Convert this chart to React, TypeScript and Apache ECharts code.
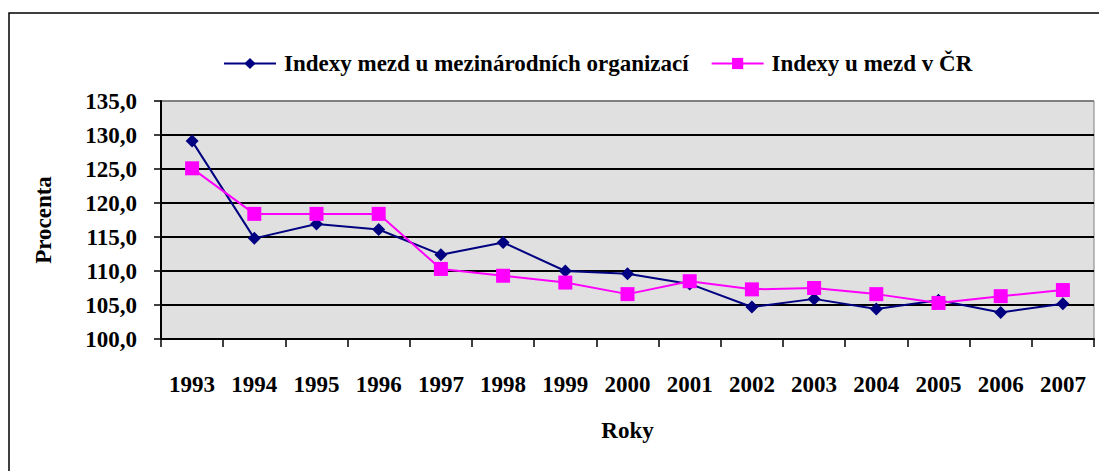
import React, { useEffect, useRef } from "react";
import * as echarts from "echarts";

const years = ["1993", "1994", "1995", "1996", "1997", "1998", "1999", "2000", "2001", "2002", "2003", "2004", "2005", "2006", "2007"];
const intlOrgIndex = [129.1, 114.8, 116.9, 116.1, 112.4, 114.2, 110.0, 109.6, 108.1, 104.7, 105.9, 104.4, 105.7, 103.9, 105.2];
const czIndex = [125.1, 118.4, 118.4, 118.4, 110.3, 109.3, 108.3, 106.6, 108.5, 107.3, 107.5, 106.6, 105.3, 106.3, 107.2];
const seriesNames = ["Indexy mezd u mezinárodních organizací", "Indexy u mezd v ČR"];
const yTickValues = [100, 105, 110, 115, 120, 125, 130, 135];

const FONT = "Liberation Serif";

export default function App() {
  const ref = useRef<HTMLDivElement>(null);
  useEffect(() => {
    if (!ref.current) return;
    const chart = echarts.init(ref.current, null, { renderer: "svg" });
    const splitColors = yTickValues.map((v, i) => (i === yTickValues.length - 1 ? "#808080" : "#000000"));
    chart.setOption({
      animation: false,
      backgroundColor: "#ffffff",
      textStyle: { fontFamily: FONT },
      graphic: [
        {
          type: "rect",
          shape: { x: 9, y: 13, width: 1200, height: 600 },
          style: { fill: "none", stroke: "#000", lineWidth: 1.5 },
          z: 0,
        },
      ],
      legend: {
        left: 218,
        top: 47,
        itemWidth: 52,
        itemHeight: 14,
        itemGap: 22,
        textStyle: { fontFamily: FONT, fontWeight: "bold", fontSize: 23, color: "#000", padding: [0, 0, 0, 3] },
        data: seriesNames,
      },
      grid: {
        left: 161,
        right: 5,
        top: 101,
        bottom: 132,
        show: true,
        backgroundColor: "#E0E0E0",
        borderColor: "#808080",
        borderWidth: 1,
      },
      xAxis: {
        type: "category",
        data: years,
        boundaryGap: true,
        name: "Roky",
        nameLocation: "middle",
        nameGap: 80,
        nameTextStyle: { fontFamily: FONT, fontWeight: "bold", fontSize: 23, color: "#000" },
        axisLine: { lineStyle: { color: "#000", width: 2 } },
        axisTick: { show: true, length: 8, alignWithLabel: false, lineStyle: { color: "#000", width: 1.5 } },
        axisLabel: { margin: 34, fontFamily: FONT, fontWeight: "bold", fontSize: 23, color: "#000", interval: 0 },
        splitLine: { show: false },
      },
      yAxis: {
        type: "value",
        min: 100,
        max: 135,
        interval: 5,
        name: "Procenta",
        nameLocation: "middle",
        nameGap: 106,
        nameRotate: 90,
        nameTextStyle: { fontFamily: FONT, fontWeight: "bold", fontSize: 23, color: "#000" },
        axisLine: { show: true, lineStyle: { color: "#000", width: 2 } },
        axisTick: { show: true, length: 7, lineStyle: { color: "#000", width: 1.5 } },
        axisLabel: {
          margin: 24,
          fontFamily: FONT,
          fontWeight: "bold",
          fontSize: 23,
          color: "#000",
          formatter: (v: number) => v.toFixed(1).replace(".", ","),
        },
        splitLine: { show: true, lineStyle: { color: splitColors, width: 2 } },
      },
      series: [
        {
          name: seriesNames[0],
          type: "line",
          data: intlOrgIndex,
          symbol: "diamond",
          symbolSize: 13,
          itemStyle: { color: "#000080" },
          lineStyle: { color: "#000080", width: 2 },
          z: 3,
        },
        {
          name: seriesNames[1],
          type: "line",
          data: czIndex,
          symbol: "rect",
          symbolSize: 14,
          itemStyle: { color: "#FF00FF" },
          lineStyle: { color: "#FF00FF", width: 2 },
          z: 4,
        },
      ],
    });
    return () => chart.dispose();
  }, []);
  return (
    <div
      ref={ref}
      style={{ position: "absolute", left: 0, top: 0, width: 1099, height: 471, background: "#fff" }}
    />
  );
}
